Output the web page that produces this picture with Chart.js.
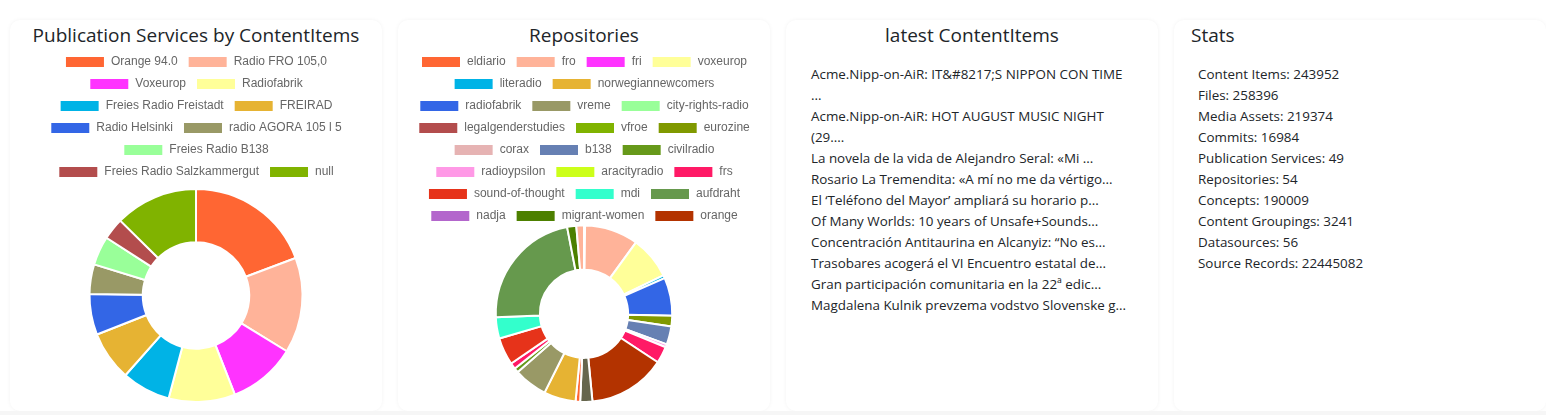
<!DOCTYPE html>
<html>
<head>
<meta charset="utf-8">
<script src="https://cdn.jsdelivr.net/npm/chart.js@4/dist/chart.umd.min.js"></script>
<style>
  body { margin: 0; background: #fff; font-family: "Open Sans", sans-serif; color: #212529; }
  .row { position: relative; width: 1546px; height: 415px; }
  .card { position: absolute; top: 20px; width: 372px; height: 391px; background: #fff;
          border-radius: 10px; box-shadow: 0 0 4px rgba(0,0,0,0.05); }
  .card h3 { position: absolute; top: 2px; left: 0; right: 0; margin: 0; font-weight: 400;
             font-size: 19px; line-height: 26px; text-align: center; }
  .card canvas { position: absolute; top: 26px; left: 0; }
  .list { position: absolute; top: 44px; font-size: 13.4px; line-height: 21px; }
  .footer { position: absolute; left: 0; top: 411px; width: 1546px; height: 4px; background: #f6f6f6; }
</style>
</head>
<body>
<div class="row">
  <div class="card" style="left:10px">
    <h3>Publication Services by ContentItems</h3>
    <canvas id="pubChart" width="372" height="357"></canvas>
  </div>
  <div class="card" style="left:398px">
    <h3>Repositories</h3>
    <canvas id="repoChart" width="372" height="357"></canvas>
  </div>
  <div class="card" style="left:786px">
    <h3>latest ContentItems</h3>
    <div class="list" id="latest" style="left:25px; width:322px"></div>
  </div>
  <div class="card" style="left:1174px">
    <h3 style="text-align:left; left:17px">Stats</h3>
    <div class="list" id="stats" style="left:24px"></div>
  </div>
  <div class="footer"></div>
</div>
<script>
const palette = ['#FF6633', '#FFB399', '#FF33FF', '#FFFF99', '#00B3E6', '#E6B333', '#3366E6', '#999966',
  '#99FF99', '#B34D4D', '#80B300', '#809900', '#E6B3B3', '#6680B3', '#66991A', '#FF99E6',
  '#CCFF1A', '#FF1A66', '#E6331A', '#33FFCC', '#66994D', '#B366CC', '#4D8000', '#B33300',
  '#CC80CC', '#66664D'];

const pubLabels = ['Orange 94.0', 'Radio FRO 105,0', 'Voxeurop', 'Radiofabrik', 'Freies Radio Freistadt',
  'FREIRAD', 'Radio Helsinki', 'radio AGORA 105 l 5', 'Freies Radio B138', 'Freies Radio Salzkammergut', 'null'];
const pubCounts = [38600, 29000, 20600, 20200, 14800, 15000, 12400, 9000, 8800, 6600, 25200];

// only the first 24 names fit in the legend, the rest are not readable
const repoLabels = ['eldiario', 'fro', 'fri', 'voxeurop', 'literadio', 'norwegiannewcomers',
  'radiofabrik', 'vreme', 'city-rights-radio', 'legalgenderstudies', 'vfroe', 'eurozine',
  'corax', 'b138', 'civilradio', 'radioypsilon', 'aracityradio', 'frs',
  'sound-of-thought', 'mdi', 'aufdraht', 'nadja', 'migrant-women', 'orange',
  'repo 25', 'repo 26', 'repo 27', 'repo 28', 'repo 29', 'repo 30', 'repo 31', 'repo 32',
  'repo 33', 'repo 34', 'repo 35', 'repo 36', 'repo 37', 'repo 38', 'repo 39', 'repo 40',
  'repo 41', 'repo 42', 'repo 43', 'repo 44', 'repo 45', 'repo 46', 'repo 47', 'repo 48',
  'repo 49', 'repo 50', 'repo 51', 'repo 52', 'repo 53', 'repo 54'];
const repoCounts = [70, 3530, 0, 2800, 200, 0,
  2500, 0, 0, 0, 0, 700,
  0, 1200, 0, 200, 0, 1100,
  0, 0, 0, 0, 0, 5100,
  0, 800, 300, 0, 0, 0, 0, 2100,
  0, 2200, 0, 0, 0, 0, 0, 0,
  300, 0, 0, 400, 1800, 1400, 8100, 0,
  600, 0, 0, 0, 0, 500];

const latestItems = [
  'Acme.Nipp-on-AiR: IT&#8217;S NIPPON CON TIME ...',
  'Acme.Nipp-on-AiR: HOT AUGUST MUSIC NIGHT (29....',
  'La novela de la vida de Alejandro Seral: «Mi ...',
  'Rosario La Tremendita: «A mí no me da vértigo...',
  'El ‘Teléfono del Mayor’ ampliará su horario p...',
  'Of Many Worlds: 10 years of Unsafe+Sounds...',
  'Concentración Antitaurina en Alcanyiz: “No es...',
  'Trasobares acogerá el VI Encuentro estatal de...',
  'Gran participación comunitaria en la 22ª edic...',
  'Magdalena Kulnik prevzema vodstvo Slovenske g...'
];

const statNames = ['Content Items', 'Files', 'Media Assets', 'Commits', 'Publication Services',
  'Repositories', 'Concepts', 'Content Groupings', 'Datasources', 'Source Records'];
const statValues = [243952, 258396, 219374, 16984, 49, 54, 190009, 3241, 56, 22445082];

function makeDoughnut(id, labels, values, maxLegend) {
    let ctx = document.getElementById(id).getContext('2d');
    return new Chart(ctx, {
        type: 'doughnut',
        data: {
            labels: labels,
            datasets: [{
                data: values,
                backgroundColor: palette,
                borderColor: '#fff',
                borderWidth: 2
            }]
        },
        options: {
            responsive: false,
            animation: false,
            cutout: '50%',
            plugins: {
                legend: {
                    position: 'top',
                    labels: {
                        color: '#666',
                        font: {size: 12},
                        filter: (item) => item.index < maxLegend
                    }
                },
                tooltip: {enabled: false}
            }
        }
    });
}

makeDoughnut('pubChart', pubLabels, pubCounts, 99);
makeDoughnut('repoChart', repoLabels, repoCounts, 24);

let latest = document.getElementById('latest');
latestItems.forEach((t) => {
    let d = document.createElement('div');
    d.textContent = t;
    latest.appendChild(d);
});
let stats = document.getElementById('stats');
statNames.forEach((name, i) => {
    let d = document.createElement('div');
    d.textContent = name + ': ' + statValues[i];
    stats.appendChild(d);
});
</script>
</body>
</html>
